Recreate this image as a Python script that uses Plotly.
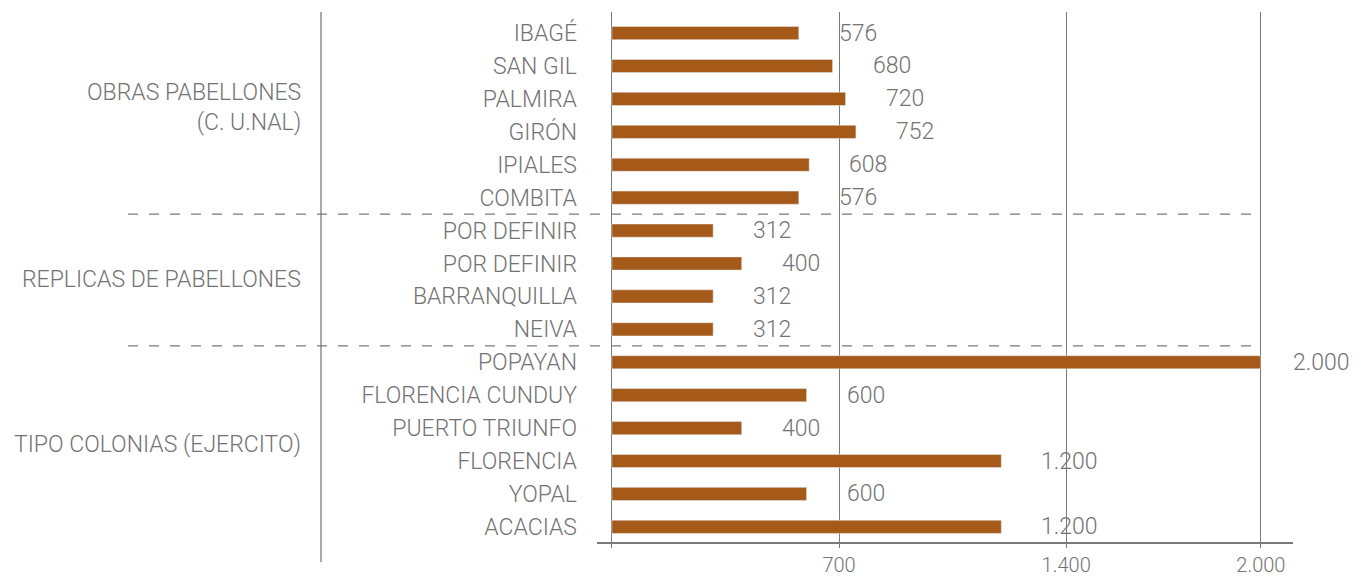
import plotly.graph_objects as go

# --- data ---
lugares = ['IBAGÉ', 'SAN GIL', 'PALMIRA', 'GIRÓN', 'IPIALES', 'COMBITA',
           'POR DEFINIR', 'POR DEFINIR', 'BARRANQUILLA', 'NEIVA',
           'POPAYAN', 'FLORENCIA CUNDUY', 'PUERTO TRIUNFO', 'FLORENCIA', 'YOPAL', 'ACACIAS']
valores = [576, 680, 720, 752, 608, 576,
           312, 400, 312, 312,
           2000, 600, 400, 1200, 600, 1200]
grupos = ['OBRAS PABELLONES<br>(C. U.NAL)', 'REPLICAS DE PABELLONES', 'TIPO COLONIAS (EJERCITO)']
grupo_tamanos = [6, 4, 6]
x_ticks = [0, 700, 1400, 2000]
x_ticktext = ['', '700', '1.400', '2.000']

BAR = '#A65A1A'
GRAY = '#7a7a7a'
TXT = '#737373'
FONT = 'Roboto'
FS = 23

OFF = 8  # default body margin of the html page
W, H = 1361 - 2 * OFF, 588 - 2 * OFF
# plot area in page pixels: x 597..1293, y 12..542
L, T = 597 - OFF, 12 - OFF
PW, PH = 1293 - 597, 542 - 12
R, B = W - L - PW, H - T - PH


def px_x(px):
    return (px - OFF - L) / PW


def px_y(py):
    return 1 - (py - OFF - T) / PH


def fmt(v):
    return f'{v:,}'.replace(',', '.')


idx = list(range(len(lugares)))
vmax = max(valores)

fig = go.Figure(go.Bar(
    x=valores, y=idx, orientation='h',
    marker_color=BAR, width=0.4,
    hoverinfo='skip', showlegend=False,
))

# value labels (the longest one sits a bit closer so it stays inside the page)
for i, v in zip(idx, valores):
    fig.add_annotation(x=v, y=i, text=fmt(v), showarrow=False,
                       xanchor='left', xshift=38 if v < vmax else 30,
                       font=dict(family=FONT, size=FS, color=TXT, weight=300))

# group labels and separators
start = 0
for g, n in zip(grupos, grupo_tamanos):
    centro = start + (n - 1) / 2
    if start == 0:
        centro -= 0.25
    fig.add_annotation(x=px_x(303), xref='paper', y=centro, yref='y',
                       text=g, showarrow=False, xanchor='right', align='right',
                       font=dict(family=FONT, size=FS, color=TXT, weight=300))
    if start + n < len(lugares):
        fig.add_shape(type='line', xref='paper', yref='y',
                      x0=px_x(128), x1=px_x(1261),
                      y0=start + n - 0.5, y1=start + n - 0.5,
                      line=dict(color=GRAY, width=1.3, dash='10px,11px'))
    start += n

# vertical divider between groups and categories
fig.add_shape(type='line', xref='paper', yref='paper',
              x0=px_x(321), x1=px_x(321), y0=px_y(562), y1=px_y(12),
              line=dict(color=GRAY, width=1.3))

fig.update_xaxes(range=[-46, 2099], tickvals=x_ticks, ticktext=x_ticktext,
                 showgrid=True, gridcolor=GRAY, gridwidth=1.3,
                 showline=True, linecolor=GRAY, linewidth=1.5,
                 ticks='outside', ticklen=4, tickcolor=GRAY, tickwidth=1.3,
                 zeroline=False, automargin=False,
                 tickfont=dict(family=FONT, size=20, color=TXT, weight=300))
fig.update_yaxes(range=[15.46, -0.64], tickvals=idx, ticktext=lugares,
                 showgrid=False, zeroline=False, showline=False,
                 ticklabelstandoff=19, automargin=False,
                 tickfont=dict(family=FONT, size=FS, color=TXT, weight=300))

fig.update_layout(
    width=W, height=H,
    margin=dict(l=L, r=R, t=T, b=B, autoexpand=False),
    paper_bgcolor='white', plot_bgcolor='white',
)

fig.write_html('out.html')
